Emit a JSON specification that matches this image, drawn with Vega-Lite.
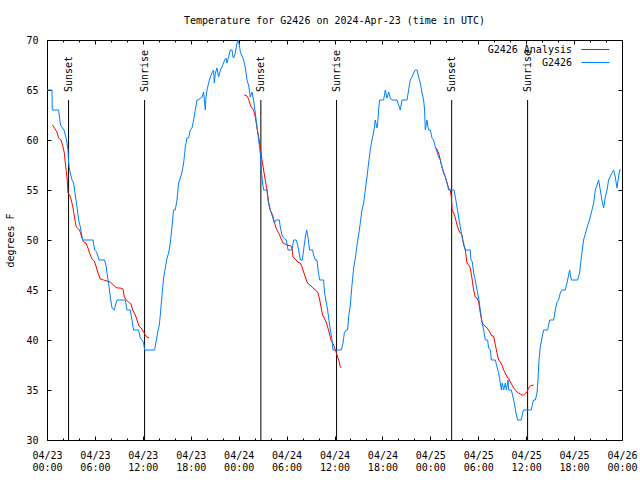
{
  "$schema": "https://vega.github.io/schema/vega-lite/v6.json",
  "width": 575,
  "height": 400,
  "autosize": {"type": "none"},
  "padding": {"left": 47, "top": 40, "right": 18, "bottom": 40},
  "title": {"text": "Temperature for G2426 on 2024-Apr-23 (time in UTC)", "font": "DejaVu Sans Mono", "fontSize": 10, "fontWeight": "normal", "color": "#000", "anchor": "middle", "offset": 9},
  "config": {
    "view": {"stroke": "#000", "strokeWidth": 1},
    "font": "DejaVu Sans Mono",
    "axis": {"grid": false, "domain": false, "tickColor": "#000", "tickWidth": 1, "labelFont": "DejaVu Sans Mono", "labelFontSize": 10, "labelColor": "#000", "titleFont": "DejaVu Sans Mono", "titleFontSize": 10, "titleFontWeight": "normal", "titleColor": "#000", "labelFlush": false, "labelOverlap": false, "labelBound": false}
  },
  "datasets": {
    "obs": [{"h":0,"t":65},{"h":0.63,"t":65},{"h":0.66,"t":63},{"h":1.45,"t":63},{"h":1.70,"t":61.5},{"h":2.13,"t":61},{"h":2.45,"t":60},{"h":2.63,"t":59},{"h":2.70,"t":57.8},{"h":2.83,"t":57},{"h":3.13,"t":56},{"h":3.33,"t":55.7},{"h":3.54,"t":54.5},{"h":3.76,"t":53.3},{"h":3.96,"t":52},{"h":4.17,"t":51.3},{"h":4.46,"t":50},{"h":5.76,"t":50},{"h":5.96,"t":49},{"h":6.21,"t":48.8},{"h":6.51,"t":48},{"h":7.21,"t":48},{"h":7.43,"t":47.3},{"h":7.51,"t":46.7},{"h":7.71,"t":45.7},{"h":7.93,"t":44.3},{"h":8.14,"t":43.2},{"h":8.43,"t":43},{"h":8.68,"t":43.8},{"h":8.77,"t":44},{"h":9.80,"t":44},{"h":10.02,"t":43},{"h":10.43,"t":43},{"h":10.64,"t":42},{"h":10.84,"t":41},{"h":11.47,"t":41},{"h":11.68,"t":40.2},{"h":11.90,"t":40},{"h":12.10,"t":39.7},{"h":12.22,"t":39},{"h":13.47,"t":39},{"h":13.69,"t":40},{"h":13.85,"t":40.7},{"h":14.06,"t":41.5},{"h":14.19,"t":42.5},{"h":14.40,"t":44.5},{"h":14.60,"t":46.2},{"h":14.81,"t":47.2},{"h":15.03,"t":48.2},{"h":15.23,"t":48.7},{"h":15.44,"t":49.7},{"h":15.65,"t":51.3},{"h":15.85,"t":53},{"h":16.06,"t":53},{"h":16.28,"t":54},{"h":16.48,"t":55.7},{"h":16.69,"t":56.2},{"h":16.91,"t":56.8},{"h":17.11,"t":57.7},{"h":17.32,"t":59.3},{"h":17.53,"t":60.2},{"h":17.73,"t":60.2},{"h":17.94,"t":61},{"h":18.16,"t":61.2},{"h":18.36,"t":62},{"h":18.57,"t":63},{"h":18.78,"t":64},{"h":18.98,"t":64},{"h":19.20,"t":64.2},{"h":19.41,"t":64.3},{"h":19.61,"t":64.8},{"h":19.82,"t":63},{"h":19.91,"t":64.3},{"h":20.04,"t":65},{"h":20.24,"t":65.7},{"h":20.45,"t":66.3},{"h":20.66,"t":66.7},{"h":20.86,"t":67},{"h":20.95,"t":65.7},{"h":21.08,"t":66.7},{"h":21.29,"t":67.2},{"h":21.49,"t":66.3},{"h":21.70,"t":67},{"h":21.91,"t":67.3},{"h":22.11,"t":67.7},{"h":22.24,"t":68},{"h":22.41,"t":68.2},{"h":22.54,"t":67.7},{"h":22.74,"t":68.3},{"h":22.95,"t":69},{"h":23.17,"t":69},{"h":23.29,"t":68.3},{"h":23.37,"t":68.2},{"h":23.58,"t":68.7},{"h":23.79,"t":69.7},{"h":23.96,"t":70},{"h":24.08,"t":69.5},{"h":24.21,"t":68.8},{"h":24.62,"t":68},{"h":24.83,"t":67.3},{"h":25.04,"t":66},{"h":25.24,"t":65.5},{"h":25.46,"t":64.3},{"h":25.67,"t":64.8},{"h":25.87,"t":64},{"h":26.08,"t":62.7},{"h":26.30,"t":61.3},{"h":26.50,"t":60},{"h":26.71,"t":58.7},{"h":26.83,"t":57},{"h":27.00,"t":55.7},{"h":27.12,"t":55},{"h":27.55,"t":55},{"h":27.67,"t":54},{"h":27.87,"t":53.2},{"h":28.25,"t":52.3},{"h":28.46,"t":51.7},{"h":28.68,"t":52},{"h":29.09,"t":52},{"h":29.21,"t":51.3},{"h":29.43,"t":50.5},{"h":29.63,"t":50.2},{"h":29.97,"t":50},{"h":30.18,"t":49},{"h":30.68,"t":49},{"h":30.88,"t":50},{"h":31.22,"t":50},{"h":31.38,"t":49.5},{"h":31.63,"t":48.5},{"h":31.72,"t":48},{"h":31.97,"t":48},{"h":32.13,"t":49},{"h":32.35,"t":50.3},{"h":32.51,"t":51},{"h":32.68,"t":50.3},{"h":32.88,"t":49},{"h":33.26,"t":49},{"h":33.38,"t":48.5},{"h":33.60,"t":48},{"h":33.81,"t":48},{"h":33.94,"t":47},{"h":34.14,"t":46},{"h":34.64,"t":46},{"h":34.76,"t":44.7},{"h":34.98,"t":43.7},{"h":35.14,"t":43},{"h":35.27,"t":42.2},{"h":35.48,"t":41},{"h":35.69,"t":40},{"h":35.81,"t":39},{"h":36.85,"t":39},{"h":37.07,"t":39.7},{"h":37.23,"t":40.7},{"h":37.48,"t":41},{"h":37.64,"t":41},{"h":37.77,"t":42.3},{"h":37.98,"t":43.5},{"h":38.19,"t":45.5},{"h":38.40,"t":47.2},{"h":38.61,"t":48.2},{"h":38.82,"t":49.5},{"h":39.02,"t":50.5},{"h":39.23,"t":51.7},{"h":39.44,"t":53},{"h":39.65,"t":53.7},{"h":39.86,"t":55},{"h":40.07,"t":56.3},{"h":40.27,"t":57.7},{"h":40.48,"t":59},{"h":40.69,"t":60},{"h":40.89,"t":60.7},{"h":41.10,"t":62},{"h":41.32,"t":61.2},{"h":41.44,"t":62},{"h":41.52,"t":63},{"h":41.65,"t":64},{"h":42.15,"t":64},{"h":42.36,"t":65},{"h":42.57,"t":64.2},{"h":42.78,"t":64.8},{"h":42.99,"t":64.2},{"h":43.20,"t":64},{"h":43.83,"t":64},{"h":44.03,"t":63.5},{"h":44.24,"t":63},{"h":44.45,"t":64},{"h":45.08,"t":64},{"h":45.28,"t":65},{"h":45.49,"t":66},{"h":45.71,"t":66.3},{"h":45.91,"t":66.7},{"h":46.12,"t":67},{"h":46.33,"t":67},{"h":46.53,"t":66.3},{"h":46.75,"t":65.7},{"h":46.96,"t":64.7},{"h":47.16,"t":64},{"h":47.28,"t":63},{"h":47.37,"t":61},{"h":47.58,"t":62},{"h":47.78,"t":61},{"h":48.00,"t":61},{"h":48.21,"t":60.2},{"h":48.41,"t":60},{"h":48.62,"t":59.3},{"h":48.84,"t":58.8},{"h":49.04,"t":58.3},{"h":49.25,"t":58},{"h":49.46,"t":57.3},{"h":49.66,"t":56.7},{"h":49.88,"t":56.3},{"h":50.09,"t":55.7},{"h":50.29,"t":55},{"h":50.97,"t":55},{"h":51.13,"t":54.3},{"h":51.34,"t":53.3},{"h":51.54,"t":52.3},{"h":51.75,"t":51.3},{"h":52.04,"t":50},{"h":52.17,"t":49.7},{"h":52.38,"t":49},{"h":53.00,"t":49},{"h":53.09,"t":48},{"h":53.26,"t":47.8},{"h":53.42,"t":46.7},{"h":53.63,"t":46},{"h":53.85,"t":45},{"h":54.05,"t":44.2},{"h":54.26,"t":43},{"h":54.47,"t":41.8},{"h":54.67,"t":41},{"h":54.89,"t":40},{"h":55.17,"t":40},{"h":55.30,"t":39.2},{"h":55.51,"t":39},{"h":55.64,"t":38},{"h":56.14,"t":38},{"h":56.35,"t":37.3},{"h":56.55,"t":36.7},{"h":56.76,"t":35.7},{"h":56.89,"t":35},{"h":57.01,"t":35.7},{"h":57.18,"t":35},{"h":57.39,"t":35.7},{"h":57.52,"t":35},{"h":57.73,"t":36},{"h":57.80,"t":35},{"h":58.14,"t":35},{"h":58.35,"t":34.3},{"h":58.51,"t":33.7},{"h":58.73,"t":32.7},{"h":58.93,"t":32},{"h":59.39,"t":32},{"h":59.56,"t":32.7},{"h":59.68,"t":33},{"h":60.65,"t":33},{"h":60.81,"t":33.7},{"h":60.93,"t":34},{"h":61.15,"t":34},{"h":61.36,"t":34.7},{"h":61.48,"t":36},{"h":61.61,"t":38},{"h":61.77,"t":39.3},{"h":61.98,"t":40.2},{"h":62.18,"t":41},{"h":62.69,"t":41},{"h":62.94,"t":42},{"h":63.44,"t":42},{"h":63.65,"t":43},{"h":63.86,"t":43.8},{"h":64.06,"t":44},{"h":64.27,"t":44.7},{"h":64.49,"t":45},{"h":64.90,"t":45},{"h":65.11,"t":45.7},{"h":65.24,"t":46.2},{"h":65.44,"t":47},{"h":65.65,"t":46},{"h":66.44,"t":46},{"h":66.69,"t":46.7},{"h":66.87,"t":48},{"h":67.03,"t":49},{"h":67.19,"t":50},{"h":67.62,"t":51.2},{"h":68.03,"t":52.3},{"h":68.24,"t":53},{"h":68.45,"t":53.7},{"h":68.66,"t":55},{"h":68.87,"t":55.5},{"h":69.07,"t":56},{"h":69.28,"t":55},{"h":69.49,"t":54},{"h":69.70,"t":53.2},{"h":69.91,"t":54.3},{"h":70.12,"t":55},{"h":70.32,"t":56},{"h":70.75,"t":56.7},{"h":70.95,"t":57},{"h":71.16,"t":56.3},{"h":71.37,"t":55.2},{"h":71.57,"t":56.3},{"h":71.70,"t":57},{"h":71.85,"t":57}],
    "ana": [{"seg":1,"h":0.70,"t":61.5},{"seg":1,"h":1.25,"t":60.8},{"seg":1,"h":1.45,"t":60.2},{"seg":1,"h":1.75,"t":60},{"seg":1,"h":1.95,"t":59.5},{"seg":1,"h":2.17,"t":58.7},{"seg":1,"h":2.29,"t":57.7},{"seg":1,"h":2.50,"t":56.3},{"seg":1,"h":2.63,"t":54.7},{"seg":1,"h":2.83,"t":54.5},{"seg":1,"h":3.04,"t":54},{"seg":1,"h":3.26,"t":53.2},{"seg":1,"h":3.46,"t":52.2},{"seg":1,"h":3.67,"t":51.3},{"seg":1,"h":3.96,"t":51.1},{"seg":1,"h":4.17,"t":50.8},{"seg":1,"h":4.38,"t":50.2},{"seg":1,"h":4.58,"t":49.8},{"seg":1,"h":4.88,"t":49.7},{"seg":1,"h":5.13,"t":49.2},{"seg":1,"h":5.33,"t":48.7},{"seg":1,"h":5.63,"t":48.1},{"seg":1,"h":5.92,"t":47.9},{"seg":1,"h":6.17,"t":47.3},{"seg":1,"h":6.39,"t":46.7},{"seg":1,"h":6.67,"t":46.1},{"seg":1,"h":7.09,"t":46},{"seg":1,"h":7.51,"t":45.9},{"seg":1,"h":7.93,"t":45.8},{"seg":1,"h":8.18,"t":45.6},{"seg":1,"h":8.43,"t":45.4},{"seg":1,"h":8.77,"t":45.2},{"seg":1,"h":9.18,"t":45.2},{"seg":1,"h":9.52,"t":45.1},{"seg":1,"h":9.68,"t":44.3},{"seg":1,"h":9.93,"t":44},{"seg":1,"h":10.22,"t":43.8},{"seg":1,"h":10.52,"t":43.6},{"seg":1,"h":10.72,"t":43},{"seg":1,"h":11.06,"t":42.5},{"seg":1,"h":11.27,"t":42},{"seg":1,"h":11.52,"t":41.4},{"seg":1,"h":11.81,"t":41.2},{"seg":1,"h":12.10,"t":40.8},{"seg":1,"h":12.31,"t":40.5},{"seg":1,"h":12.52,"t":40.3},{"seg":1,"h":12.81,"t":40.2},
      {"seg":2,"h":24.71,"t":64.5},{"seg":2,"h":25.04,"t":64.4},{"seg":2,"h":25.24,"t":64.1},{"seg":2,"h":25.46,"t":63.5},{"seg":2,"h":25.67,"t":63.2},{"seg":2,"h":25.87,"t":63},{"seg":2,"h":26.08,"t":62.3},{"seg":2,"h":26.30,"t":61.2},{"seg":2,"h":26.50,"t":60.3},{"seg":2,"h":26.71,"t":59.3},{"seg":2,"h":26.92,"t":58},{"seg":2,"h":27.12,"t":57},{"seg":2,"h":27.33,"t":56},{"seg":2,"h":27.55,"t":55},{"seg":2,"h":27.75,"t":53.8},{"seg":2,"h":27.96,"t":53},{"seg":2,"h":28.25,"t":52.5},{"seg":2,"h":28.46,"t":51.8},{"seg":2,"h":28.68,"t":51.2},{"seg":2,"h":28.93,"t":50.8},{"seg":2,"h":29.13,"t":50.5},{"seg":2,"h":29.21,"t":50.3},{"seg":2,"h":29.55,"t":49.7},{"seg":2,"h":30.05,"t":49.5},{"seg":2,"h":30.55,"t":49.4},{"seg":2,"h":30.68,"t":49.2},{"seg":2,"h":30.80,"t":48.3},{"seg":2,"h":31.09,"t":48.1},{"seg":2,"h":31.38,"t":47.8},{"seg":2,"h":31.72,"t":47.7},{"seg":2,"h":31.93,"t":47.3},{"seg":2,"h":32.13,"t":46.8},{"seg":2,"h":32.35,"t":46.3},{"seg":2,"h":32.56,"t":45.8},{"seg":2,"h":32.76,"t":45.6},{"seg":2,"h":33.06,"t":45.4},{"seg":2,"h":33.31,"t":45.2},{"seg":2,"h":33.60,"t":45},{"seg":2,"h":33.88,"t":44.8},{"seg":2,"h":34.10,"t":44.2},{"seg":2,"h":34.31,"t":43.3},{"seg":2,"h":34.51,"t":42.5},{"seg":2,"h":34.72,"t":42.2},{"seg":2,"h":34.94,"t":41.8},{"seg":2,"h":35.14,"t":41.3},{"seg":2,"h":35.35,"t":40.7},{"seg":2,"h":35.56,"t":40},{"seg":2,"h":35.76,"t":39.7},{"seg":2,"h":35.98,"t":39.3},{"seg":2,"h":36.19,"t":38.8},{"seg":2,"h":36.39,"t":38.3},{"seg":2,"h":36.60,"t":37.8},{"seg":2,"h":36.73,"t":37.3},{"seg":2,"h":36.85,"t":37.2},
      {"seg":3,"h":48.75,"t":59.2},{"seg":3,"h":49.04,"t":58.7},{"seg":3,"h":49.25,"t":58},{"seg":3,"h":49.46,"t":57.3},{"seg":3,"h":49.66,"t":56.8},{"seg":3,"h":49.88,"t":56.3},{"seg":3,"h":50.09,"t":55.7},{"seg":3,"h":50.29,"t":55.2},{"seg":3,"h":50.50,"t":55},{"seg":3,"h":50.63,"t":54.3},{"seg":3,"h":50.72,"t":53},{"seg":3,"h":50.92,"t":52.7},{"seg":3,"h":51.13,"t":52.2},{"seg":3,"h":51.34,"t":51.5},{"seg":3,"h":51.54,"t":51},{"seg":3,"h":51.75,"t":50.7},{"seg":3,"h":51.97,"t":50.5},{"seg":3,"h":52.17,"t":49.5},{"seg":3,"h":52.38,"t":49},{"seg":3,"h":52.59,"t":47.7},{"seg":3,"h":52.79,"t":47.5},{"seg":3,"h":53.00,"t":47.2},{"seg":3,"h":53.21,"t":46.2},{"seg":3,"h":53.42,"t":45},{"seg":3,"h":53.63,"t":44.3},{"seg":3,"h":53.85,"t":44.2},{"seg":3,"h":54.05,"t":43.8},{"seg":3,"h":54.26,"t":42.7},{"seg":3,"h":54.47,"t":41.8},{"seg":3,"h":54.67,"t":41.5},{"seg":3,"h":55.01,"t":41.3},{"seg":3,"h":55.30,"t":41},{"seg":3,"h":55.51,"t":40.7},{"seg":3,"h":55.72,"t":40.4},{"seg":3,"h":55.92,"t":40.4},{"seg":3,"h":56.14,"t":39.5},{"seg":3,"h":56.35,"t":38.7},{"seg":3,"h":56.55,"t":38},{"seg":3,"h":56.76,"t":37.8},{"seg":3,"h":56.97,"t":37.5},{"seg":3,"h":57.18,"t":37},{"seg":3,"h":57.39,"t":36.7},{"seg":3,"h":57.60,"t":36.3},{"seg":3,"h":57.80,"t":36.2},{"seg":3,"h":58.01,"t":35.8},{"seg":3,"h":58.23,"t":35.5},{"seg":3,"h":58.43,"t":35.2},{"seg":3,"h":58.64,"t":35},{"seg":3,"h":58.85,"t":34.8},{"seg":3,"h":59.05,"t":34.7},{"seg":3,"h":59.26,"t":34.6},{"seg":3,"h":59.47,"t":34.5},{"seg":3,"h":59.68,"t":34.5},{"seg":3,"h":60.10,"t":34.8},{"seg":3,"h":60.30,"t":35.2},{"seg":3,"h":60.51,"t":35.4},{"seg":3,"h":60.93,"t":35.5}],
    "sun": [{"h":2.70,"label":"Sunset"},{"h":12.22,"label":"Sunrise"},{"h":26.78,"label":"Sunset"},{"h":36.26,"label":"Sunrise"},{"h":50.67,"label":"Sunset"},{"h":60.18,"label":"Sunrise"}]
  },
  "layer": [
    {
      "data": {"name": "sun"},
      "mark": {"type": "rule", "color": "#000", "strokeWidth": 1},
      "encoding": {
        "x": {"field": "h", "type": "quantitative", "scale": {"domain": [0, 72], "nice": false, "zero": false}, "axis": null},
        "y": {"datum": 64, "type": "quantitative", "scale": {"domain": [30, 70], "nice": false, "zero": false}, "axis": null},
        "y2": {"datum": 30}
      }
    },
    {
      "data": {"name": "ana"},
      "mark": {"type": "line", "strokeWidth": 1},
      "encoding": {
        "x": {"field": "h", "type": "quantitative", "scale": {"domain": [0, 72], "nice": false, "zero": false},
          "axis": {"orient": "top", "values": [0,2,4,6,8,10,12,14,16,18,20,22,24,26,28,30,32,34,36,38,40,42,44,46,48,50,52,54,56,58,60,62,64,66,68,70,72], "labels": false, "title": null, "tickSize": {"condition": {"test": "datum.value % 6 === 0", "value": -4}, "value": -2}}},
        "y": {"field": "t", "type": "quantitative", "scale": {"domain": [30, 70], "nice": false, "zero": false},
          "axis": {"orient": "right", "values": [30,35,40,45,50,55,60,65,70], "labels": false, "title": null, "tickSize": -4}},
        "detail": {"field": "seg", "type": "nominal"},
        "color": {"datum": "G2426 Analysis", "type": "nominal",
          "scale": {"domain": ["G2426 Analysis", "G2426"], "range": ["#ff0000", "#0080ff"]},
          "legend": {"orient": "none", "legendX": 542, "legendY": 3, "title": null, "symbolType": "M-2.33,0L2.33,0", "symbolSize": 144, "symbolStrokeWidth": 1, "symbolFillColor": "transparent", "labelAlign": "right", "labelOffset": -30, "labelFont": "DejaVu Sans Mono", "labelFontSize": 10, "labelColor": "#000", "padding": 0, "rowPadding": 1}}
      }
    },
    {
      "data": {"name": "obs"},
      "mark": {"type": "line", "strokeWidth": 1},
      "encoding": {
        "x": {"field": "h", "type": "quantitative", "scale": {"domain": [0, 72], "nice": false, "zero": false},
          "axis": {"orient": "bottom", "values": [0,2,4,6,8,10,12,14,16,18,20,22,24,26,28,30,32,34,36,38,40,42,44,46,48,50,52,54,56,58,60,62,64,66,68,70,72], "title": null, "labelLineHeight": 12, "labelBaseline": "top", "labelPadding": 14,
            "labelExpr": "datum.value % 6 === 0 ? ['04/' + (23 + floor(datum.value / 24)), ((datum.value % 24) < 10 ? '0' : '') + (datum.value % 24) + ':00'] : ''",
            "tickSize": {"condition": {"test": "datum.value % 6 === 0", "value": -4}, "value": -2}}},
        "y": {"field": "t", "type": "quantitative", "scale": {"domain": [30, 70], "nice": false, "zero": false},
          "axis": {"orient": "left", "values": [30,35,40,45,50,55,60,65,70], "title": "degrees F", "tickSize": -4, "labelPadding": 13, "titlePadding": 10}},
        "color": {"datum": "G2426", "type": "nominal"}
      }
    },
    {
      "data": {"name": "sun"},
      "mark": {"type": "text", "angle": 270, "align": "left", "baseline": "middle", "font": "DejaVu Sans Mono", "fontSize": 10, "color": "#000"},
      "encoding": {
        "x": {"field": "h", "type": "quantitative", "scale": {"domain": [0, 72], "nice": false, "zero": false}, "axis": null},
        "y": {"datum": 64.8, "type": "quantitative", "scale": {"domain": [30, 70], "nice": false, "zero": false}, "axis": null},
        "text": {"field": "label", "type": "nominal"}
      }
    }
  ],
  "resolve": {"axis": {"x": "independent", "y": "independent"}}
}
